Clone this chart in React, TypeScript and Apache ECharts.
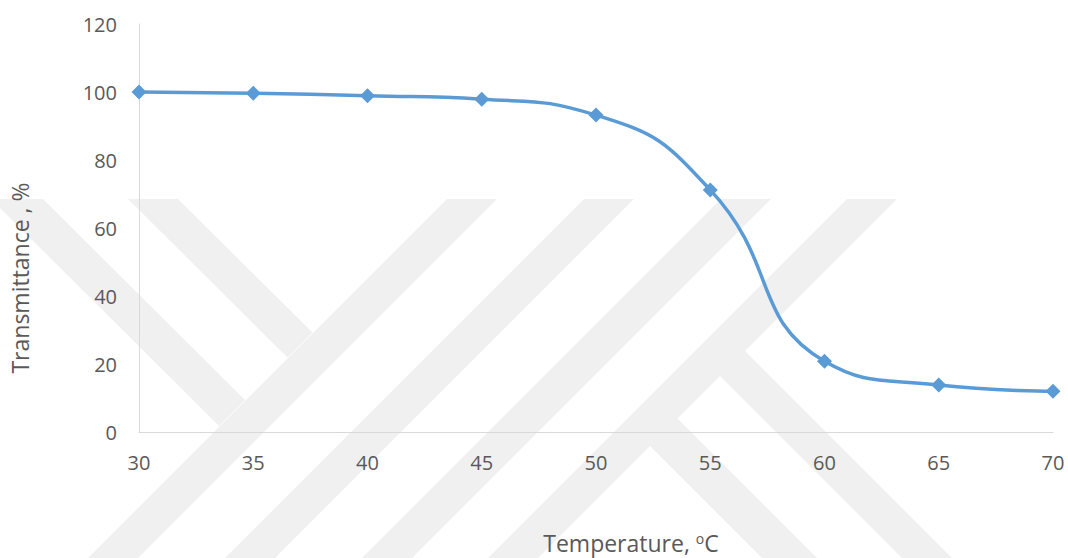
import React, { useEffect, useRef } from "react";
import * as echarts from "echarts";

const temperatures = [30, 35, 40, 45, 50, 55, 60, 65, 70];
const transmittance = [100, 99.6, 98.9, 97.9, 93.2, 71.2, 20.8, 13.8, 12];
const yTicks = { min: 0, max: 120, interval: 20 };
const xTicks = { min: 30, max: 70, interval: 5 };
const yTitle = "Transmittance , %";

const FONT = "'Open Sans', 'Noto Sans', sans-serif";
const TEXT = "#595959";
const WM = "#f0f0f0";

function wmPolys(): any[] {
  const top = 199;
  const bot = 558;
  const h = bot - top;
  const bands = [
    [447, 497],
    [584, 634],
    [721, 771],
    [847, 897],
  ];
  const polys: number[][][] = bands.map(([l, r]) => [
    [l, top],
    [r, top],
    [r - h, bot],
    [l - h, bot],
  ]);
  // arms joining band 1 from upper left
  polys.push([[-9, top], [43, top], [245, 400], [219, 426]]);
  polys.push([[128, top], [178, top], [312.5, 332.5], [287.5, 357.5]]);
  // arms leaving band 4 towards lower right
  polys.push([[744.5, 350.5], [952, 558], [902, 558], [719.5, 375.5]]);
  polys.push([[677, 418], [817, 558], [762, 558], [649.5, 445.5]]);
  return polys.map((p) => ({
    type: "polygon",
    z: -10,
    silent: true,
    shape: { points: p },
    style: { fill: WM },
  }));
}

export default function App() {
  const ref = useRef<HTMLDivElement>(null);
  useEffect(() => {
    if (!ref.current) return;
    const chart = echarts.init(ref.current, null, { renderer: "svg" });
    chart.setOption({
      animation: false,
      backgroundColor: "#ffffff",
      grid: { left: 139, right: 15, top: 24, bottom: 126, containLabel: false },
      xAxis: {
        type: "value",
        min: xTicks.min,
        max: xTicks.max,
        interval: xTicks.interval,
        axisLine: { show: true, lineStyle: { color: "#d9d9d9", width: 1 } },
        axisTick: { show: false },
        splitLine: { show: false },
        axisLabel: { color: TEXT, fontSize: 20, fontFamily: FONT, margin: 20 },
      },
      yAxis: {
        type: "value",
        min: yTicks.min,
        max: yTicks.max,
        interval: yTicks.interval,
        axisLine: { show: true, lineStyle: { color: "#d9d9d9", width: 1 } },
        axisTick: { show: false },
        splitLine: { show: false },
        axisLabel: { color: TEXT, fontSize: 20, fontFamily: FONT, margin: 22 },
      },
      graphic: [
        ...wmPolys(),
        {
          type: "text",
          x: 20,
          y: 278,
          rotation: Math.PI / 2,
          style: {
            text: yTitle,
            fill: TEXT,
            fontSize: 23,
            fontFamily: FONT,
            align: "center",
            verticalAlign: "middle",
            textAlign: "center",
            textVerticalAlign: "middle",
          },
        },
        {
          type: "text",
          x: 631,
          y: 543,
          style: {
            text: "{a|Temperature, }{s|o}{a|C}",
            align: "center",
            verticalAlign: "middle",
            textAlign: "center",
            textVerticalAlign: "middle",
            rich: {
              a: { fontSize: 23, fontFamily: FONT, fill: TEXT, lineHeight: 24 },
              s: { fontSize: 14, fontFamily: FONT, fill: TEXT, lineHeight: 24, verticalAlign: "top", padding: [0, 0, 0, 0] },
            },
          },
        },
      ],
      series: [
        {
          type: "line",
          data: temperatures.map((t, i) => [t, transmittance[i]]),
          smooth: 0.5,
          symbol: "diamond",
          symbolSize: 15,
          showSymbol: true,
          lineStyle: { color: "#5b9bd5", width: 3.5 },
          itemStyle: { color: "#5b9bd5" },
          z: 5,
        },
      ],
    });
    return () => chart.dispose();
  }, []);
  return (
    <div
      ref={ref}
      style={{ position: "fixed", left: 0, top: 0, width: 1068, height: 558 }}
    />
  );
}
